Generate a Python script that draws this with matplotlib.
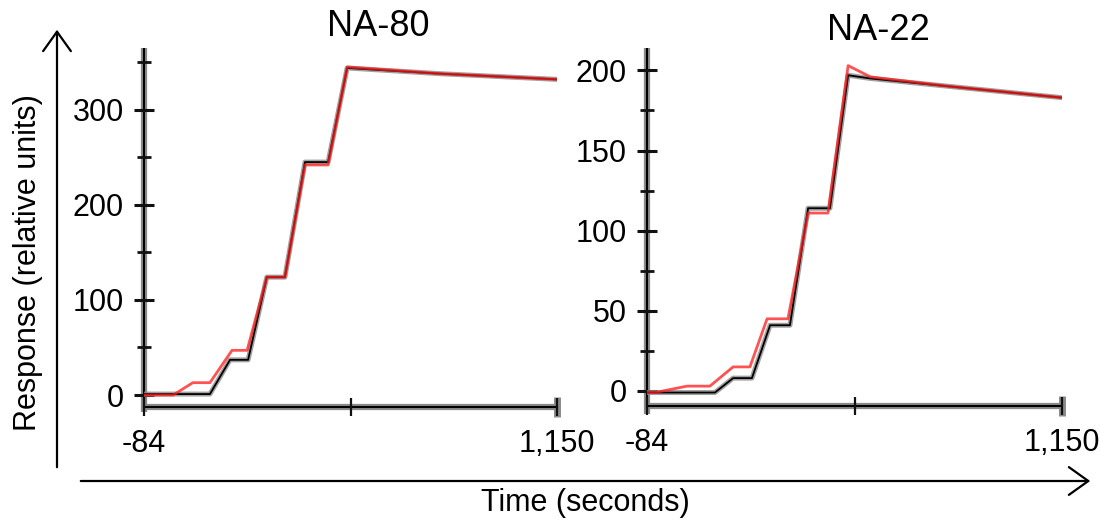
import numpy as np
import matplotlib
matplotlib.use("Agg")
import matplotlib.pyplot as plt
from matplotlib.patches import FancyArrowPatch

plt.rcParams['font.family'] = ['Liberation Sans', 'DejaVu Sans']

# panel titles
titles = ["NA-80", "NA-22"]

# NA-80: measured response (black) and fit (red)
t80_data = [-84, 113, 173, 227, 283, 337, 397, 466, 523, 800, 1150]
r80_data = [1, 1, 37, 37, 124, 124, 245, 245, 344, 338, 332]
t80_fit = [-84, 3, 62, 113, 179, 224, 283, 337, 397, 466, 523, 800, 1150]
r80_fit = [0, 0, 13, 13, 47, 47, 124, 124, 242, 242, 345, 338, 332]

# NA-22: measured response (black) and fit (red)
t22_data = [-84, 118, 172, 228, 282, 341, 395, 460, 514, 580, 817, 1150]
r22_data = [-1, -1, 8, 8, 41, 41, 114, 114, 197, 195, 190, 183]
t22_fit = [-84, -60, 35, 103, 172, 222, 273, 335, 395, 454, 514, 580, 817, 1150]
r22_fit = [-1, -1, 3, 3, 15, 15, 45, 45, 111, 111, 203, 196, 190, 183]

# axis ticks
x_ticks = [-84, 533, 1150]
x_ticklabels = ["-84", "", "1,150"]
y80_major = [0, 100, 200, 300]
y80_minor = [50, 150, 250, 350]
y22_major = [0, 50, 100, 150, 200]
y22_minor = [25, 75, 125, 175]

W, H = 1100, 521
fig = plt.figure(figsize=(W / 100, H / 100), dpi=100)


def px_axes(x0, x1, ytop, ybot):
    return fig.add_axes([x0 / W, 1 - ybot / H, (x1 - x0) / W, (ybot - ytop) / H])


ax1 = px_axes(144, 557, 48, 407)
ax1.set_ylim(-12.6, 365)
ax2 = px_axes(647, 1062, 48, 406)
ax2.set_ylim(-9.4, 214)

panels = [
    (ax1, t80_data, r80_data, t80_fit, r80_fit, y80_major, y80_minor),
    (ax2, t22_data, r22_data, t22_fit, r22_fit, y22_major, y22_minor),
]

for ax, td, rd, tf, rf, ymaj, ymin in panels:
    ax.set_xlim(-84, 1150)
    y0, y1 = ax.get_ylim()
    for s in ax.spines.values():
        s.set_visible(False)

    # axis lines: grey halo with black core
    ax.plot([-84, -84], [y0 - 5, y1], color="#8a8a8a", lw=4.5, clip_on=False, zorder=1,
            solid_capstyle="butt")
    ax.plot([-84, -84], [y0 - 2, y1], color="black", lw=1.5, clip_on=False, zorder=1.5,
            solid_capstyle="butt")
    ax.plot([-84, 1150], [y0, y0], color="#8a8a8a", lw=4.5, clip_on=False, zorder=1,
            solid_capstyle="butt")
    ax.plot([-84, 1150], [y0, y0], color="black", lw=1.5, clip_on=False, zorder=1.5,
            solid_capstyle="butt")
    ax.plot([1150], [y0], marker="|", ms=15, mew=5, color="#8a8a8a", clip_on=False, zorder=1)

    # data and fit
    ax.plot(td, rd, color="#8a8a8a", lw=3.6, alpha=0.8, zorder=3)
    ax.plot(td, rd, color="black", lw=1.3, zorder=3.5)
    ax.plot(tf, rf, color="#ff1a1a", lw=2.0, alpha=0.75, zorder=4)

    ax.set_yticks(ymaj)
    ax.set_yticks(ymin, minor=True)
    ax.set_xticks(x_ticks)
    ax.set_xticklabels(x_ticklabels)
    ax.tick_params(axis="y", which="major", direction="inout", length=15, width=2.2,
                   labelsize=22, pad=7, color="#111111")
    ax.tick_params(axis="y", which="minor", direction="inout", length=10, width=2.0,
                   color="#111111")
    ax.tick_params(axis="x", which="major", direction="inout", length=13, width=1.6,
                   labelsize=22, pad=9, color="#111111")
    ax.patch.set_alpha(0)

fig.text(378 / W, 1 - 26 / H, titles[0], fontsize=26, ha="center", va="center")
fig.text(878 / W, 1 - 31 / H, titles[1], fontsize=26, ha="center", va="center")

fig.text(585 / W, 1 - 503 / H, "Time (seconds)", fontsize=22, ha="center", va="center")
fig.text(28 / W, 1 - 263 / H, "Response (relative units)", fontsize=22, ha="center",
         va="center", rotation=90)

arr_kw = dict(transform=fig.transFigure, arrowstyle="->,head_length=0.7,head_width=0.5",
              mutation_scale=20, color="black", lw=1.6)
fig.add_artist(FancyArrowPatch((57 / W, 1 - 470 / H), (57 / W, 1 - 27 / H), **arr_kw))
fig.add_artist(FancyArrowPatch((78 / W, 1 - 481 / H), (1093 / W, 1 - 481 / H), **arr_kw))

fig.savefig("out.png", dpi=100)
